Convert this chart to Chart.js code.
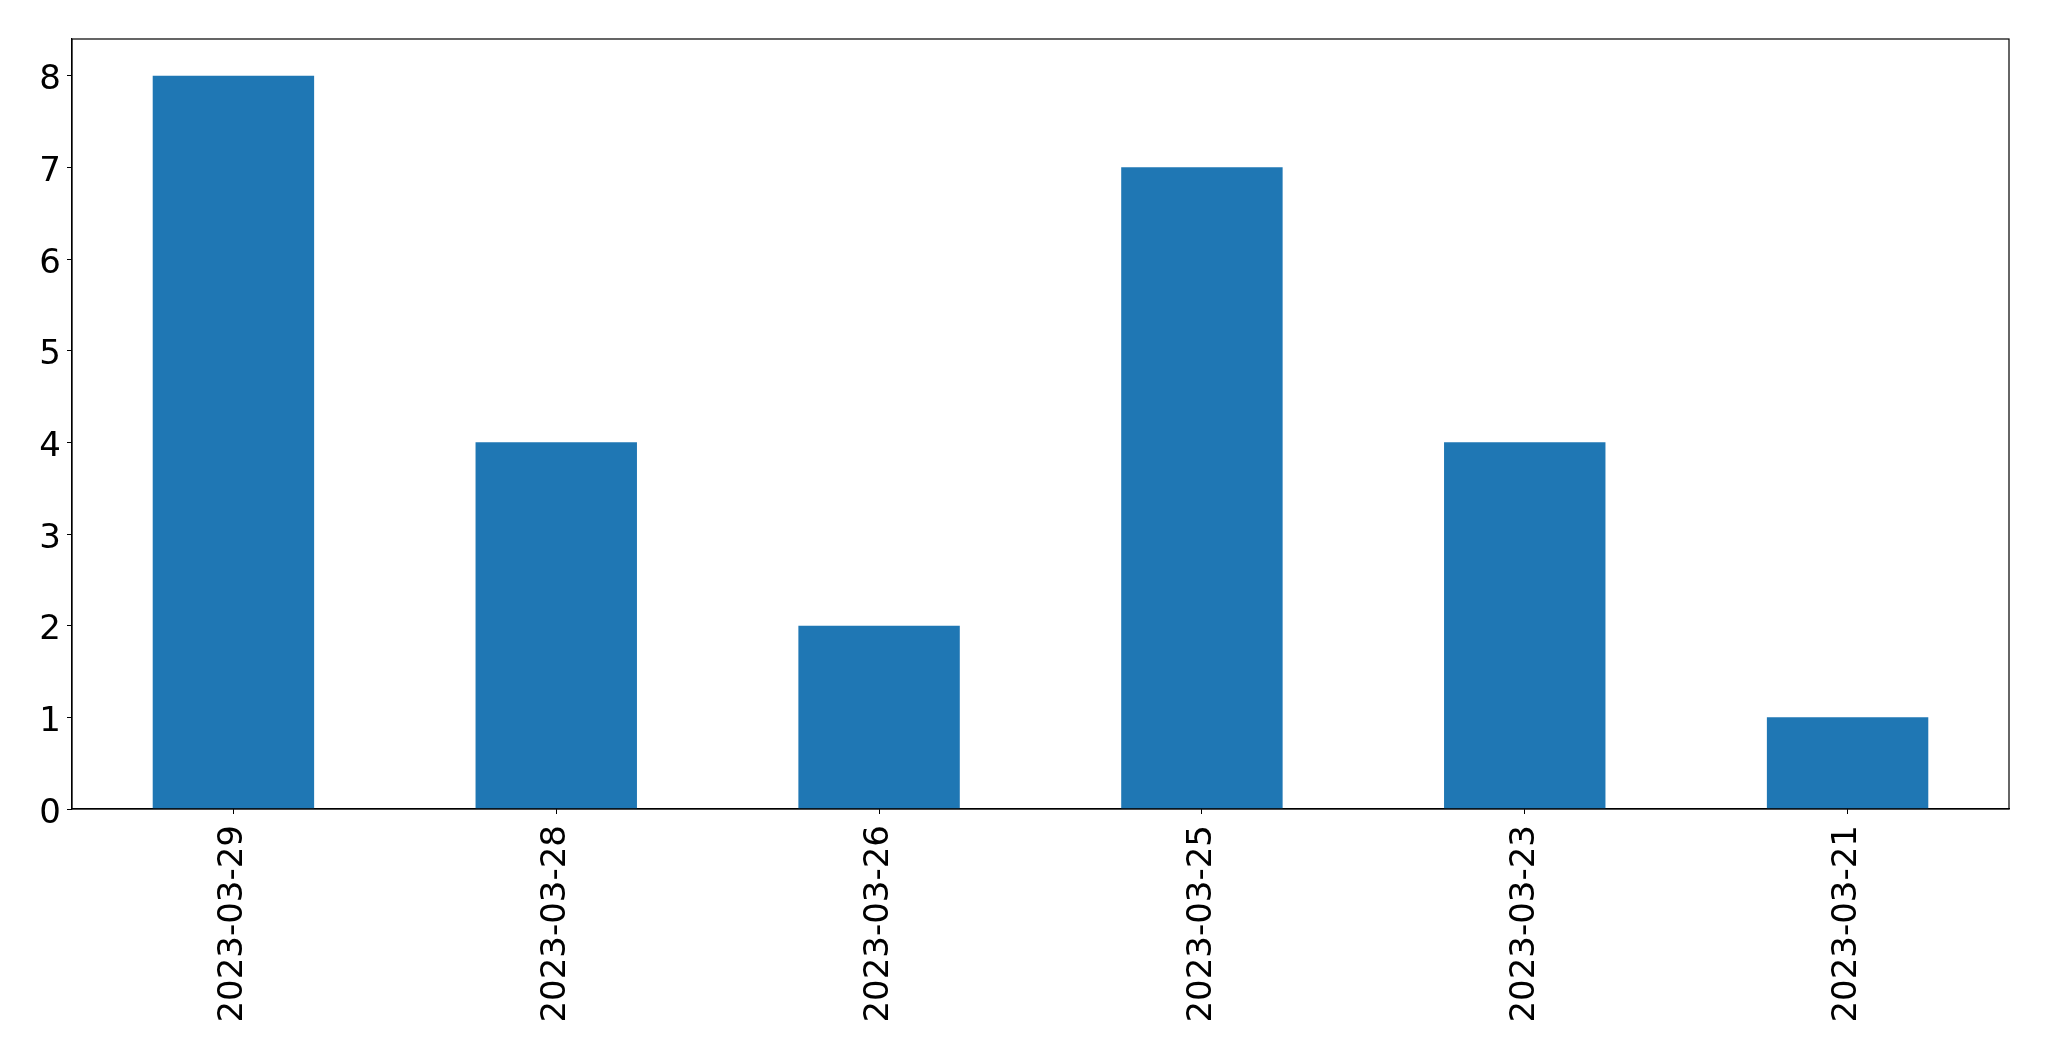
<!DOCTYPE html>
<html>
<head>
<meta charset="utf-8">
<script src="https://cdn.jsdelivr.net/npm/chart.js@4"></script>
<style>
  html, body { margin: 0; padding: 0; background: #fff; }
  #wrap { width: 2049px; height: 1061px; }
</style>
</head>
<body>
<div id="wrap"><canvas id="grafico" width="2049" height="1061"></canvas></div>
<script>
const fechas = ["2023-03-29", "2023-03-28", "2023-03-26", "2023-03-25", "2023-03-23", "2023-03-21"];
const cantidades = [8, 4, 2, 7, 4, 1];
const ticksY = [0, 1, 2, 3, 4, 5, 6, 7, 8];

// marco completo alrededor del area del grafico (como matplotlib)
const marco = {
  id: "marco",
  afterDraw(chart) {
    const a = chart.chartArea;
    const ctx = chart.ctx;
    ctx.save();
    ctx.strokeStyle = "#000";
    ctx.lineWidth = 1.2;
    ctx.strokeRect(a.left, a.top, a.right - a.left, a.bottom - a.top);
    ctx.restore();
  }
};

const ctx = document.getElementById("grafico").getContext("2d");
new Chart(ctx, {
  type: "bar",
  data: {
    labels: fechas,
    datasets: [{
      data: cantidades,
      backgroundColor: "#1f77b4",
      borderWidth: 0,
      categoryPercentage: 1,
      barPercentage: 0.5
    }]
  },
  options: {
    responsive: false,
    animation: false,
    layout: { padding: { top: 39, right: 40, left: 0, bottom: 0 } },
    plugins: {
      legend: { display: false },
      tooltip: { enabled: false }
    },
    scales: {
      x: {
        offset: true,
        grid: { display: true, drawOnChartArea: false, drawTicks: true, tickLength: 5, color: "#000", offset: false },
        border: { display: true, color: "#000", width: 1.2 },
        ticks: {
          color: "#000",
          font: { family: "DejaVu Sans", size: 34 },
          maxRotation: 90,
          minRotation: 90,
          padding: 11,
          autoSkip: false
        },
        afterFit(scale) { scale.height = 252; }
      },
      y: {
        min: 0,
        max: 8.4,
        afterBuildTicks(scale) { scale.ticks = ticksY.map(v => ({ value: v })); },
        grid: { display: true, drawOnChartArea: false, drawTicks: true, tickLength: 5, color: "#000" },
        border: { display: true, color: "#000", width: 1.2 },
        ticks: {
          color: "#000",
          font: { family: "DejaVu Sans", size: 34 },
          padding: 6,
          labelOffset: 5
        },
        afterFit(scale) { scale.width = 72; }
      }
    }
  },
  plugins: [marco]
});
</script>
</body>
</html>
